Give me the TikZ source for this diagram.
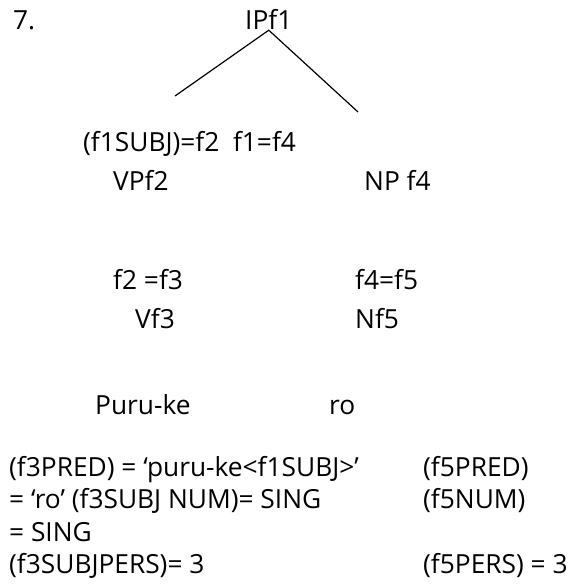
\documentclass[tikz,border=0pt]{standalone}
\usepackage{fontspec}
\setmainfont{Open Sans}
\begin{document}
\begin{tikzpicture}[x=1pt,y=-1pt,
  lbl/.style={anchor=base west,inner sep=0pt,font=\fontsize{26.3}{31}\selectfont},
  branch/.style={line width=1.2pt}]
\useasboundingbox (0,0) rectangle (571,585);
% example number and root
\node[lbl] (num) at (13,30) {7.};
\node[lbl] (ip) at (245,30) {IPf1};
% branches from the root
\coordinate (lend) at (175,96);
\coordinate (rend) at (358,112);
\draw[branch] (lend) -- (ip.south) -- (rend);
% first level
\node[lbl] (ann1) at (83,152) {(f1SUBJ)=f2\ \ f1=f4};
\node[lbl] (vp) at (113,190) {VPf2};
\node[lbl] (np) at (364,190) {NP f4};
% second level
\node[lbl] (ann2) at (113,289) {f2 =f3};
\node[lbl] (ann3) at (355,289) {f4=f5};
\node[lbl] (v) at (135,328) {Vf3};
\node[lbl] (n) at (355,328) {Nf5};
% words
\node[lbl] (w1) at (95,414) {Puru-ke};
\node[lbl] (w2) at (329,414) {ro};
% functional equations
\node[lbl] (e1) at (9,476) {(f3PRED) = ‘puru-ke<f1SUBJ>’};
\node[lbl] (e2) at (9,508) {= ‘ro’ (f3SUBJ NUM)= SING};
\node[lbl] (e3) at (9,541) {= SING};
\node[lbl] (e4) at (9,573) {(f3SUBJPERS)= 3};
\node[lbl] (r1) at (423,476) {(f5PRED)};
\node[lbl] (r2) at (423,508) {(f5NUM)};
\node[lbl] (r4) at (423,573) {(f5PERS) = 3};
\end{tikzpicture}
\end{document}
